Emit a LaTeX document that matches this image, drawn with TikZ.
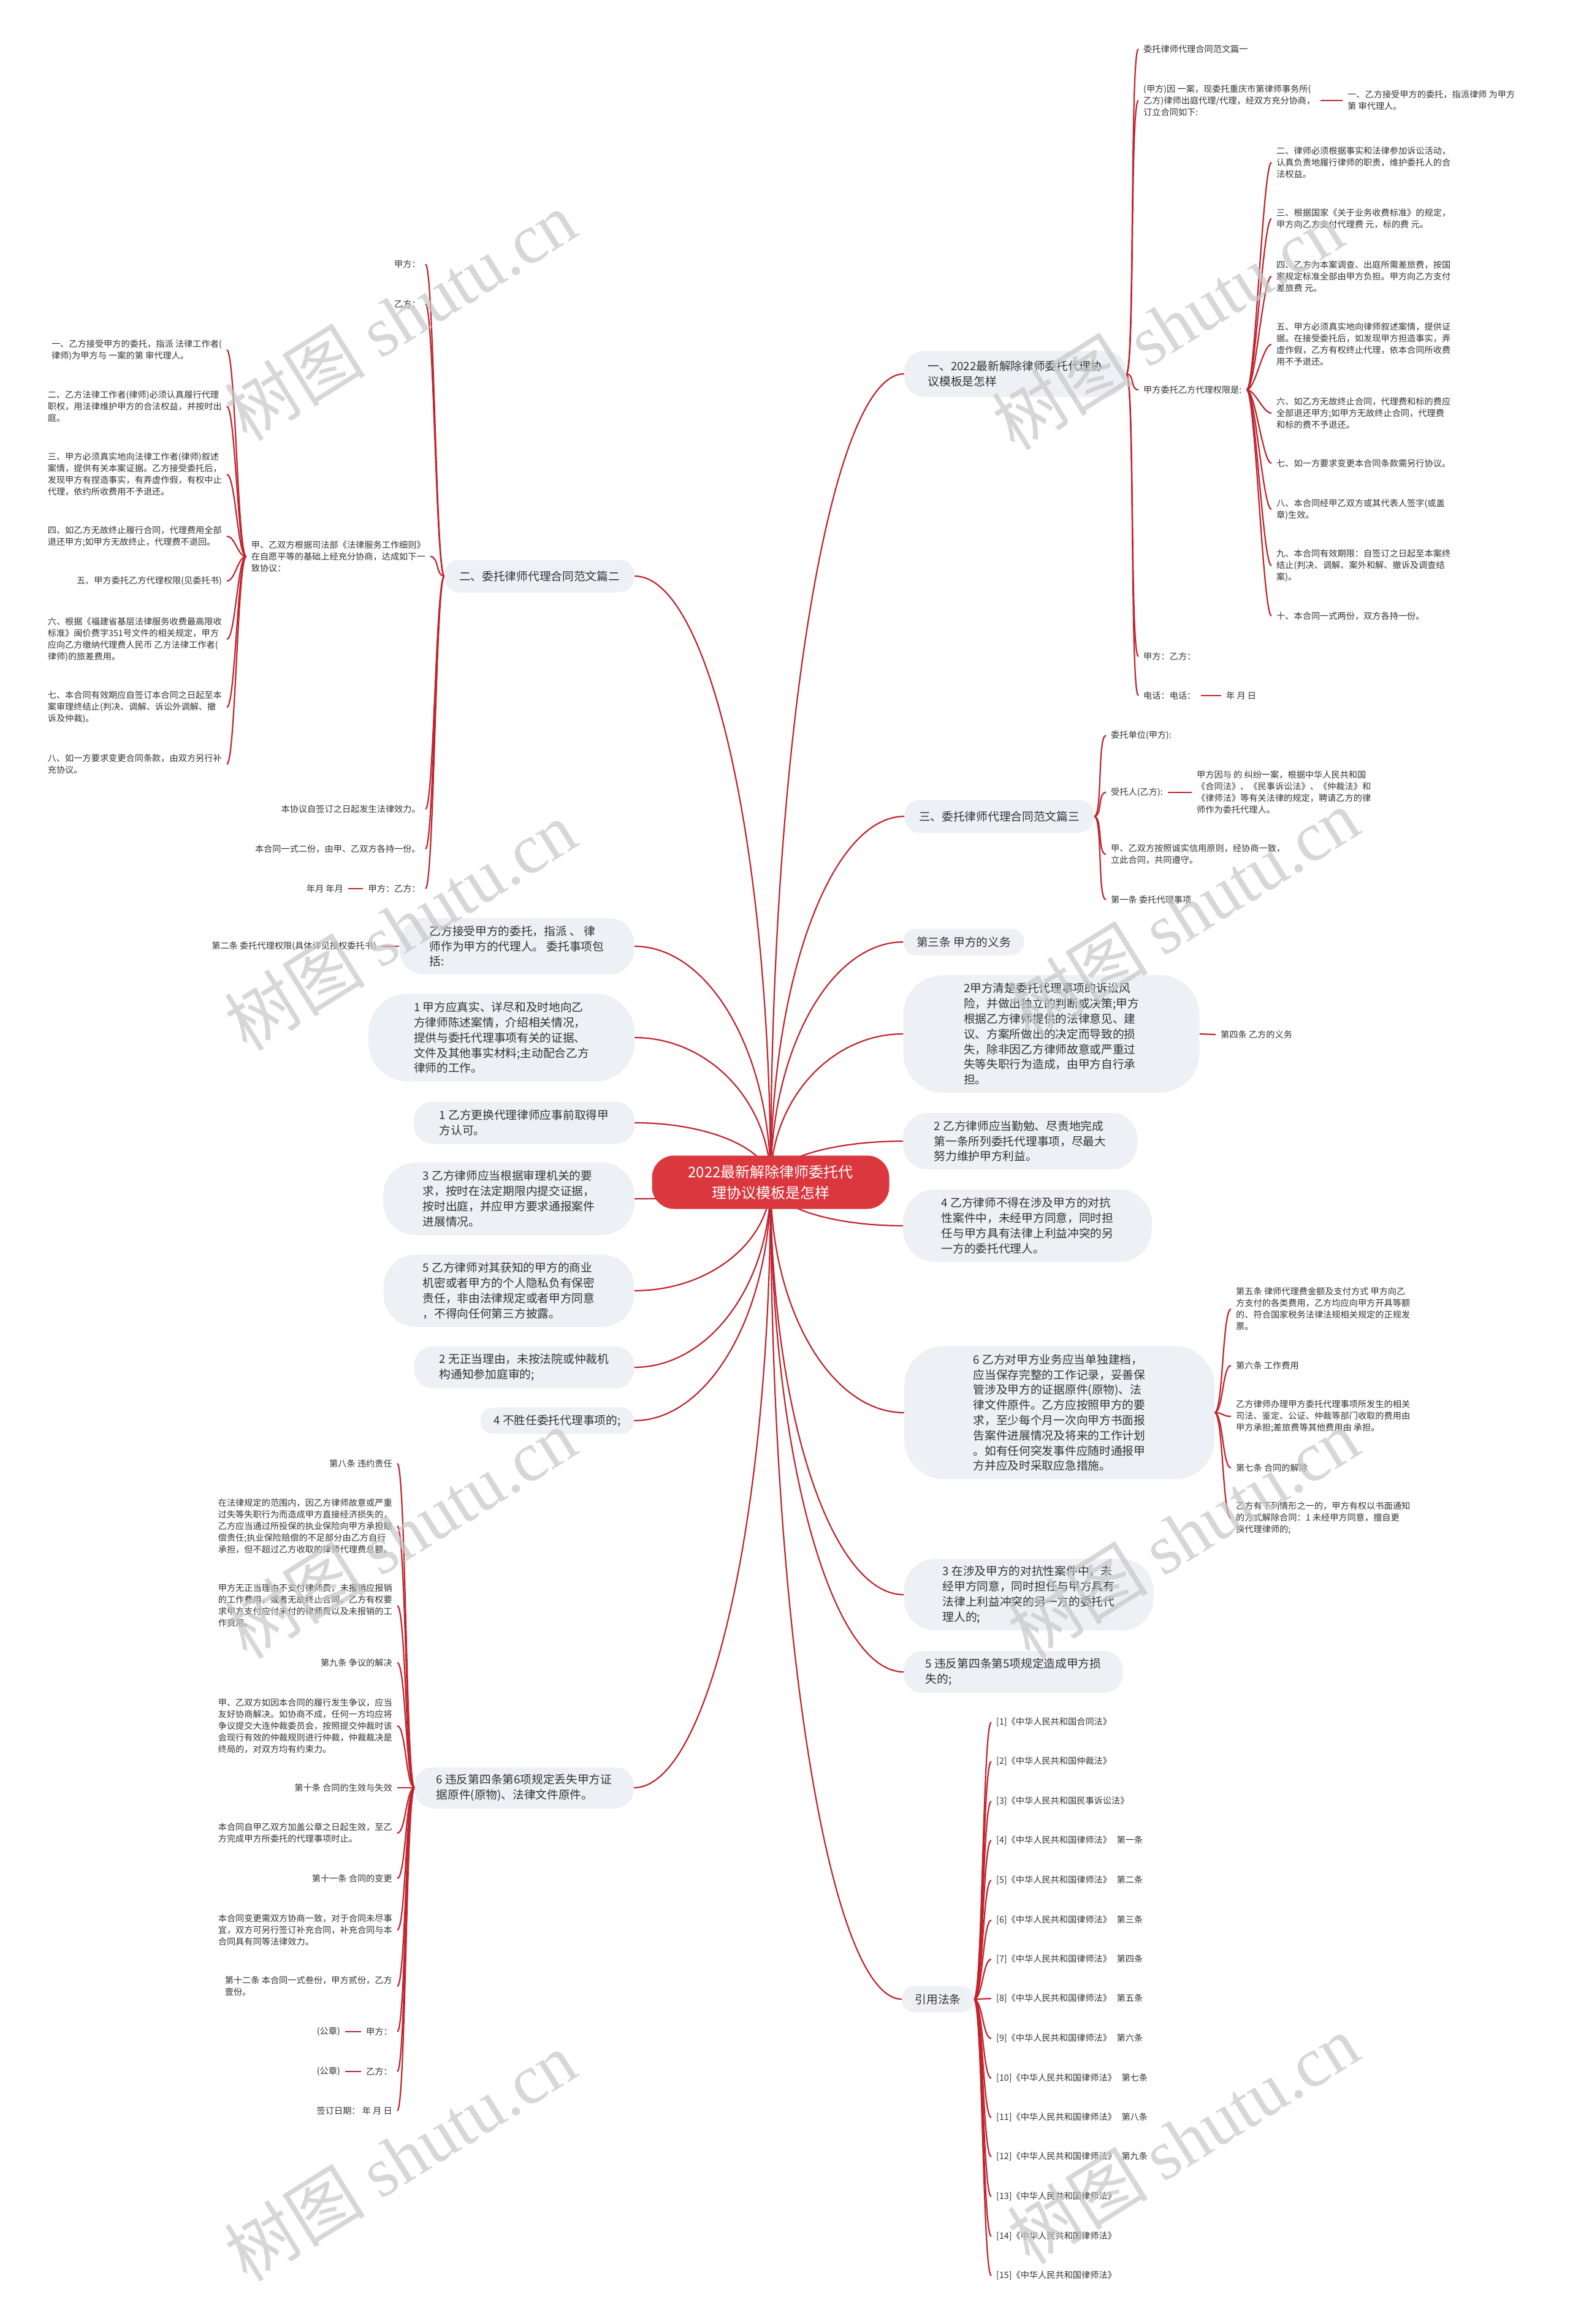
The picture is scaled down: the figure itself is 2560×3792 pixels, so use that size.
\documentclass[tikz,border=0pt]{standalone}
\usepackage{fontspec}
\setmainfont{Noto Sans CJK SC}
\newfontfamily\wmlatin{Liberation Serif}
\usetikzlibrary{calc}
\definecolor{lk}{RGB}{192,36,46}
\definecolor{rootred}{RGB}{218,56,62}
\definecolor{bubfill}{RGB}{237,240,244}
\definecolor{txt}{RGB}{51,51,51}
\newcommand\leaffont{\fontsize{14.2pt}{19pt}\selectfont}
\newcommand\bubfont{\fontsize{18.7pt}{24.8pt}\selectfont}
\newcommand\rootfont{\fontsize{24pt}{34pt}\selectfont}
\newcommand\wmfont{\fontsize{115pt}{115pt}\selectfont}
\pgfdeclarelayer{back}
\pgfdeclarelayer{links}
\pgfsetlayers{back,links,main}
\tikzset{
  link/.style={draw=lk, line width=2.2pt},
  leaf/.style={font=\leaffont, text=txt, inner xsep=8pt, inner ysep=2pt, align=left},
  bub/.style={fill=bubfill, text=txt, font=\bubfont, align=left, inner sep=0pt, rounded corners=#1},
  bub/.default=20pt,
  rootbox/.style={fill=rootred, text=white, font=\rootfont, align=center, inner sep=0pt,
    minimum width=387pt, minimum height=87pt, rounded corners=36pt},
  wm/.style={text=black!22, opacity=0.7, rotate=32, font=\wmfont}
}
\newcommand\rlk[2]{\draw[link] (#1.east) .. controls +(14,0) and +(-14,0) .. (#2.west);}
\newcommand\llk[2]{\draw[link] (#1.west) .. controls +(-14,0) and +(14,0) .. (#2.east);}
\newcommand\rootlk[1]{\draw[link] (root.center) .. controls ($(root.center)!0.55!(root.center|-#1)$) and ($(#1)!0.55!(root.center|-#1)$) .. (#1);}
\begin{document}
\begin{tikzpicture}[x=1pt,y=-1pt]
\begin{pgfonlayer}{back}
\fill[white] (0,0) rectangle (2560,3792);
\end{pgfonlayer}
\useasboundingbox (0,0) rectangle (2560,3792);

% ---------- root ----------
\node[rootbox] (root) at (1257,1929) {2022最新解除律师委托代\\理协议模板是怎样};

% ---------- right level 1 ----------
\node[bub=33pt, minimum width=362pt, minimum height=75pt] (R1) at (1656,610) {一、2022最新解除律师委托代理协\\议模板是怎样};
\node[bub=25pt, minimum width=309pt, minimum height=54pt] (R2) at (1630,1332) {三、委托律师代理合同范文篇三};
\node[bub=20pt, minimum width=197pt, minimum height=43pt] (R3) at (1572,1537) {第三条 甲方的义务};
\node[bub=65pt, minimum width=483pt, minimum height=192pt] (R4) at (1715,1687) {2甲方清楚委托代理事项的诉讼风\\险，并做出独立的判断或决策;甲方\\根据乙方律师提供的法律意见、建\\议、方案所做出的决定而导致的损\\失，除非因乙方律师故意或严重过\\失等失职行为造成，由甲方自行承\\担。};
\node[bub=41pt, minimum width=382pt, minimum height=92pt] (R5) at (1664,1862) {2 乙方律师应当勤勉、尽责地完成\\第一条所列委托代理事项，尽最大\\努力维护甲方利益。};
\node[bub=53pt, minimum width=406pt, minimum height=118pt] (R6) at (1676,2000) {4 乙方律师不得在涉及甲方的对抗\\性案件中，未经甲方同意，同时担\\任与甲方具有法律上利益冲突的另\\一方的委托代理人。};
\node[bub=65pt, minimum width=506pt, minimum height=217pt] (R7) at (1728,2305) {6 乙方对甲方业务应当单独建档，\\应当保存完整的工作记录，妥善保\\管涉及甲方的证据原件(原物)、法\\律文件原件。乙方应按照甲方的要\\求，至少每个月一次向甲方书面报\\告案件进展情况及将来的工作计划\\。如有任何突发事件应随时通报甲\\方并应及时采取应急措施。};
\node[bub=52pt, minimum width=407pt, minimum height=117pt] (R8) at (1678,2602) {3 在涉及甲方的对抗性案件中，未\\经甲方同意，同时担任与甲方具有\\法律上利益冲突的另一方的委托代\\理人的;};
\node[bub=30pt, minimum width=357pt, minimum height=68pt] (R9) at (1653,2728) {5 违反第四条第5项规定造成甲方损\\失的;};
\node[bub=20pt, minimum width=117pt, minimum height=43pt] (R10) at (1530,3262) {引用法条};

% ---------- left level 1 ----------
\node[bub=24pt, minimum width=310pt, minimum height=53pt] (LB) at (880,940) {二、委托律师代理合同范文篇二};
\node[bub=41pt, minimum width=383pt, minimum height=92pt] (L2) at (843,1544) {乙方接受甲方的委托，指派 、 律\\师作为甲方的代理人。 委托事项包\\括:};
\node[bub=64pt, minimum width=434pt, minimum height=143pt] (L3) at (818,1693) {1 甲方应真实、详尽和及时地向乙\\方律师陈述案情，介绍相关情况，\\提供与委托代理事项有关的证据、\\文件及其他事实材料;主动配合乙方\\律师的工作。};
\node[bub=30pt, minimum width=360pt, minimum height=68pt] (L4) at (855,1832) {1 乙方更换代理律师应事前取得甲\\方认可。};
\node[bub=53pt, minimum width=410pt, minimum height=118pt] (L5) at (830,1956) {3 乙方律师应当根据审理机关的要\\求，按时在法定期限内提交证据，\\按时出庭，并应甲方要求通报案件\\进展情况。};
\node[bub=53pt, minimum width=409pt, minimum height=118pt] (L6) at (830,2106) {5 乙方律师对其获知的甲方的商业\\机密或者甲方的个人隐私负有保密\\责任，非由法律规定或者甲方同意\\，不得向任何第三方披露。};
\node[bub=30pt, minimum width=359pt, minimum height=68pt] (L7) at (855,2231) {2 无正当理由，未按法院或仲裁机\\构通知参加庭审的;};
\node[bub=20pt, minimum width=250pt, minimum height=43pt] (L8) at (909,2318) {4 不胜任委托代理事项的;};
\node[bub=30pt, minimum width=357pt, minimum height=67pt] (L9) at (855,2917) {6 违反第四条第6项规定丢失甲方证\\据原件(原物)、法律文件原件。};

% ---------- branch R1 leaves ----------
\node[leaf,anchor=west] (a1) at (1857,80) {委托律师代理合同范文篇一};
\node[leaf,anchor=west] (a2) at (1857,164) {(甲方)因 一案，现委托重庆市第律师事务所(\\乙方)律师出庭代理/代理，经双方充分协商，\\订立合同如下:};
\node[leaf,anchor=west] (a2c) at (2190,164) {一、乙方接受甲方的委托，指派律师 为甲方\\第 审代理人。};
\node[leaf,anchor=west] (a3) at (1857,636) {甲方委托乙方代理权限是:};
\node[leaf,anchor=west] (a4) at (1857,1071) {甲方：乙方：};
\node[leaf,anchor=west] (a5) at (1857,1135) {电话：电话：};
\node[leaf,anchor=west] (a5c) at (1992,1135) {年 月 日};
\node[leaf,anchor=west] (b2) at (2074,265) {二、律师必须根据事实和法律参加诉讼活动，\\认真负责地履行律师的职责，维护委托人的合\\法权益。};
\node[leaf,anchor=west] (b3) at (2074,357) {三、根据国家《关于业务收费标准》的规定，\\甲方向乙方支付代理费 元，标的费 元。};
\node[leaf,anchor=west] (b4) at (2074,451) {四、乙方为本案调查、出庭所需差旅费，按国\\家规定标准全部由甲方负担。甲方向乙方支付\\差旅费 元。};
\node[leaf,anchor=west] (b5) at (2074,562) {五、甲方必须真实地向律师叙述案情，提供证\\据。在接受委托后，如发现甲方担造事实，弄\\虚作假，乙方有权终止代理，依本合同所收费\\用不予退还。};
\node[leaf,anchor=west] (b6) at (2074,674) {六、如乙方无故终止合同，代理费和标的费应\\全部退还甲方;如甲方无故终止合同，代理费\\和标的费不予退还。};
\node[leaf,anchor=west] (b7) at (2074,756) {七、如一方要求变更本合同条款需另行协议。};
\node[leaf,anchor=west] (b8) at (2074,831) {八、本合同经甲乙双方或其代表人签字(或盖\\章)生效。};
\node[leaf,anchor=west] (b9) at (2074,923) {九、本合同有效期限：自签订之日起至本案终\\结止(判决、调解、案外和解、撤诉及调查结\\案)。};
\node[leaf,anchor=west] (b10) at (2074,1005) {十、本合同一式两份，双方各持一份。};

% ---------- branch R2 leaves ----------
\node[leaf,anchor=west] (c1) at (1804,1200) {委托单位(甲方):};
\node[leaf,anchor=west] (c2) at (1804,1293) {受托人(乙方):};
\node[leaf,anchor=west] (c2c) at (1944,1293) {甲方因与 的 纠纷一案，根据中华人民共和国\\《合同法》、《民事诉讼法》、《仲裁法》和\\《律师法》等有关法律的规定，聘请乙方的律\\师作为委托代理人。};
\node[leaf,anchor=west] (c3) at (1804,1394) {甲、乙双方按照诚实信用原则，经协商一致，\\立此合同，共同遵守。};
\node[leaf,anchor=west] (c4) at (1804,1468) {第一条 委托代理事项};

% ---------- R4, R7 leaves ----------
\node[leaf,anchor=west] (d1) at (1983,1688) {第四条 乙方的义务};
\node[leaf,anchor=west] (e1) at (2008,2136) {第五条 律师代理费金额及支付方式 甲方向乙\\方支付的各类费用，乙方均应向甲方开具等额\\的、符合国家税务法律法规相关规定的正规发\\票。};
\node[leaf,anchor=west] (e2) at (2008,2228) {第六条 工作费用};
\node[leaf,anchor=west] (e3) at (2008,2311) {乙方律师办理甲方委托代理事项所发生的相关\\司法、鉴定、公证、仲裁等部门收取的费用由\\甲方承担;差旅费等其他费用由 承担。};
\node[leaf,anchor=west] (e4) at (2008,2395) {第七条 合同的解除};
\node[leaf,anchor=west] (e5) at (2008,2477) {乙方有下列情形之一的，甲方有权以书面通知\\的方式解除合同：1 未经甲方同意，擅自更\\换代理律师的;};

% ---------- citations ----------
\node[leaf,anchor=west] (f1) at (1617,2810) {[1]《中华人民共和国合同法》};
\node[leaf,anchor=west] (f2) at (1617,2874) {[2]《中华人民共和国仲裁法》};
\node[leaf,anchor=west] (f3) at (1617,2939) {[3]《中华人民共和国民事诉讼法》};
\node[leaf,anchor=west] (f4) at (1617,3003) {[4]《中华人民共和国律师法》\hspace{0.6em}第一条};
\node[leaf,anchor=west] (f5) at (1617,3068) {[5]《中华人民共和国律师法》\hspace{0.6em}第二条};
\node[leaf,anchor=west] (f6) at (1617,3133) {[6]《中华人民共和国律师法》\hspace{0.6em}第三条};
\node[leaf,anchor=west] (f7) at (1617,3197) {[7]《中华人民共和国律师法》\hspace{0.6em}第四条};
\node[leaf,anchor=west] (f8) at (1617,3261) {[8]《中华人民共和国律师法》\hspace{0.6em}第五条};
\node[leaf,anchor=west] (f9) at (1617,3326) {[9]《中华人民共和国律师法》\hspace{0.6em}第六条};
\node[leaf,anchor=west] (f10) at (1617,3391) {[10]《中华人民共和国律师法》\hspace{0.6em}第七条};
\node[leaf,anchor=west] (f11) at (1617,3455) {[11]《中华人民共和国律师法》\hspace{0.6em}第八条};
\node[leaf,anchor=west] (f12) at (1617,3519) {[12]《中华人民共和国律师法》\hspace{0.6em}第九条};
\node[leaf,anchor=west] (f13) at (1617,3584) {[13]《中华人民共和国律师法》};
\node[leaf,anchor=west] (f14) at (1617,3649) {[14]《中华人民共和国律师法》};
\node[leaf,anchor=west] (f15) at (1617,3713) {[15]《中华人民共和国律师法》};

% ---------- branch LB leaves ----------
\node[leaf,anchor=east] (g1) at (694,431) {甲方：};
\node[leaf,anchor=east] (g2) at (694,496) {乙方：};
\node[leaf,anchor=east] (g3) at (702,908) {甲、乙双方根据司法部《法律服务工作细则》\\在自愿平等的基础上经充分协商，达成如下一\\致协议：};
\node[leaf,anchor=east] (g4) at (694,1320) {本协议自签订之日起发生法律效力。};
\node[leaf,anchor=east] (g5) at (694,1385) {本合同一式二份，由甲、乙双方各持一份。};
\node[leaf,anchor=east] (g6) at (694,1450) {甲方：乙方：};
\node[leaf,anchor=east] (g6c) at (568,1450) {年月 年月};
\node[leaf,anchor=east] (h1) at (370,571) {一、乙方接受甲方的委托，指派 法律工作者(\\律师)为甲方与 一案的第 审代理人。};
\node[leaf,anchor=east] (h2) at (370,663) {二、乙方法律工作者(律师)必须认真履行代理\\职权，用法律维护甲方的合法权益，并按时出\\庭。};
\node[leaf,anchor=east] (h3) at (370,774) {三、甲方必须真实地向法律工作者(律师)叙述\\案情，提供有关本案证据。乙方接受委托后，\\发现甲方有捏造事实，有弄虚作假，有权中止\\代理，依约所收费用不予退还。};
\node[leaf,anchor=east] (h4) at (370,875) {四、如乙方无故终止履行合同，代理费用全部\\退还甲方;如甲方无故终止，代理费不退回。};
\node[leaf,anchor=east] (h5) at (370,948) {五、甲方委托乙方代理权限(见委托书)};
\node[leaf,anchor=east] (h6) at (370,1043) {六、根据《福建省基层法律服务收费最高限收\\标准》闽价费字351号文件的相关规定，甲方\\应向乙方缴纳代理费人民币 乙方法律工作者(\\律师)的旅差费用。};
\node[leaf,anchor=east] (h7) at (370,1154) {七、本合同有效期应自签订本合同之日起至本\\案审理终结止(判决、调解、诉讼外调解、撤\\诉及仲裁)。};
\node[leaf,anchor=east] (h8) at (370,1247) {八、如一方要求变更合同条款，由双方另行补\\充协议。};

% ---------- L2 leaf ----------
\node[leaf,anchor=east] (k1) at (622,1544) {第二条 委托代理权限(具体详见授权委托书)};

% ---------- branch L9 leaves ----------
\node[leaf,anchor=east] (m1) at (648,2388) {第八条 违约责任};
\node[leaf,anchor=east] (m2) at (648,2490) {在法律规定的范围内，因乙方律师故意或严重\\过失等失职行为而造成甲方直接经济损失的，\\乙方应当通过所投保的执业保险向甲方承担赔\\偿责任;执业保险赔偿的不足部分由乙方自行\\承担，但不超过乙方收取的律师代理费总额。};
\node[leaf,anchor=east] (m3) at (648,2620) {甲方无正当理由不支付律师费，未报销应报销\\的工作费用，或者无故终止合同，乙方有权要\\求甲方支付应付未付的律师费以及未报销的工\\作费用。};
\node[leaf,anchor=east] (m4) at (648,2713) {第九条 争议的解决};
\node[leaf,anchor=east] (m5) at (648,2816) {甲、乙双方如因本合同的履行发生争议，应当\\友好协商解决。如协商不成，任何一方均应将\\争议提交大连仲裁委员会，按照提交仲裁时该\\会现行有效的仲裁规则进行仲裁，仲裁裁决是\\终局的，对双方均有约束力。};
\node[leaf,anchor=east] (m6) at (648,2917) {第十条 合同的生效与失效};
\node[leaf,anchor=east] (m7) at (648,2991) {本合同自甲乙双方加盖公章之日起生效，至乙\\方完成甲方所委托的代理事项时止。};
\node[leaf,anchor=east] (m8) at (648,3065) {第十一条 合同的变更};
\node[leaf,anchor=east] (m9) at (648,3149) {本合同变更需双方协商一致，对于合同未尽事\\宜，双方可另行签订补充合同，补充合同与本\\合同具有同等法律效力。};
\node[leaf,anchor=east] (m10) at (648,3241) {第十二条 本合同一式叁份，甲方贰份，乙方\\壹份。};
\node[leaf,anchor=east] (m11) at (648,3315) {甲方：};
\node[leaf,anchor=east] (m11c) at (563,3315) {(公章)};
\node[leaf,anchor=east] (m12) at (648,3380) {乙方：};
\node[leaf,anchor=east] (m12c) at (563,3380) {(公章)};
\node[leaf,anchor=east] (m13) at (648,3444) {签订日期： 年 月 日};

% ---------- connectors ----------
\begin{pgfonlayer}{links}
\foreach \c in {R1.west,R2.west,R3.west,R4.west,R5.west,R6.west,R7.west,R8.west,R9.west,R10.west,LB.east,L2.east,L3.east,L4.east,L5.east,L6.east,L7.east,L8.east,L9.east} {\rootlk{\c}}
\foreach \c in {a1,a2,a3,a4,a5} {\rlk{R1}{\c}}
\draw[link] (a2.east) -- (a2c.west);
\draw[link] (a5.east) -- (a5c.west);
\foreach \c in {b2,b3,b4,b5,b6,b7,b8,b9,b10} {\rlk{a3}{\c}}
\foreach \c in {c1,c2,c3,c4} {\rlk{R2}{\c}}
\draw[link] (c2.east) -- (c2c.west);
\draw[link] (R4.east) -- (d1.west);
\foreach \c in {e1,e2,e3,e4,e5} {\rlk{R7}{\c}}
\foreach \c in {f1,f2,f3,f4,f5,f6,f7,f8,f9,f10,f11,f12,f13,f14,f15} {\rlk{R10}{\c}}
\foreach \c in {g1,g2,g3,g4,g5,g6} {\llk{LB}{\c}}
\draw[link] (g6.west) -- (g6c.east);
\foreach \c in {h1,h2,h3,h4,h5,h6,h7,h8} {\llk{g3}{\c}}
\draw[link] (L2.west) -- (k1.east);
\foreach \c in {m1,m2,m3,m4,m5,m6,m7,m8,m9,m10,m11,m12,m13} {\llk{L9}{\c}}
\draw[link] (m11.west) -- (m11c.east);
\draw[link] (m12.west) -- (m12c.east);
\end{pgfonlayer}

% ---------- watermarks ----------
\foreach \p in {(653,515),(1905,530),(653,1510),(1930,1490),(653,2502),(1930,2502),(653,3518),(1930,3490)}
  {\node[wm] at \p {树图 {\wmlatin shutu.cn}};}
\end{tikzpicture}
\end{document}
